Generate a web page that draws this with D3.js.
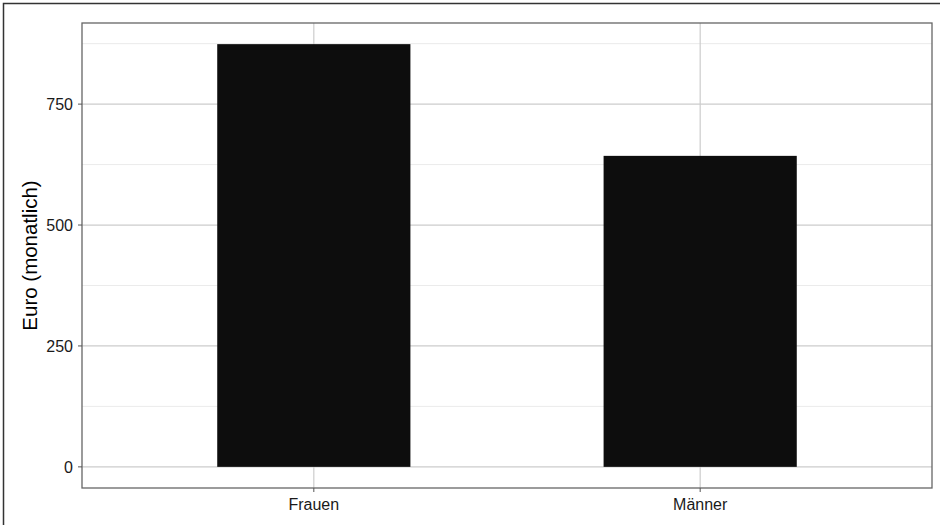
<!DOCTYPE html>
<html><head><meta charset="utf-8">
<script src="https://cdn.jsdelivr.net/npm/d3@7"></script>
<style>body{margin:0;background:#fff}svg{display:block}text{font-family:"Liberation Sans",Arial,sans-serif}</style>
</head><body><svg id="c" width="940" height="525"></svg>
<script>
const categories = ["Frauen", "Männer"];
const values = [874, 643];
const yTicks = [0, 250, 500, 750];
const yMinor = [125, 375, 625, 875];
const yTitle = "Euro (monatlich)";

const svg = d3.select("#c");
const L = 82, R = 932, T = 23, B = 488;

// outer frame
svg.append("rect").attr("x", 3.5).attr("y", 3.5).attr("width", 960).attr("height", 560)
  .attr("fill", "none").attr("stroke", "#333").attr("stroke-width", 1.5);

const ymax = d3.max(values);
const y = d3.scaleLinear().domain([-0.05 * ymax, ymax * 1.05]).range([B, T]);
// discrete positions: centers at 1,2 in [0.4,2.6]; bar width 0.5
const xc = d3.scaleLinear().domain([0.4, categories.length + 0.6]).range([L, R]);
const half = xc(1.25) - xc(1);

const g = svg.append("g");
g.selectAll("line.minor").data(yMinor).join("line")
  .attr("x1", L).attr("x2", R).attr("y1", d => y(d)).attr("y2", d => y(d))
  .attr("stroke", "#ebebeb").attr("stroke-width", 1);
g.selectAll("line.majy").data(yTicks).join("line")
  .attr("x1", L).attr("x2", R).attr("y1", d => y(d)).attr("y2", d => y(d))
  .attr("stroke", "#cccccc").attr("stroke-width", 1.2);
g.selectAll("line.majx").data(categories).join("line")
  .attr("x1", (d, i) => xc(i + 1)).attr("x2", (d, i) => xc(i + 1)).attr("y1", T).attr("y2", B)
  .attr("stroke", "#cccccc").attr("stroke-width", 1.2);

// bars
g.selectAll("rect.bar").data(values).join("rect")
  .attr("x", (d, i) => xc(i + 1) - half)
  .attr("width", half * 2)
  .attr("y", d => y(d)).attr("height", d => y(0) - y(d))
  .attr("fill", "#0d0d0d");

// panel border
svg.append("rect").attr("x", L).attr("y", T).attr("width", R - L).attr("height", B - T)
  .attr("fill", "none").attr("stroke", "#666").attr("stroke-width", 1.3);

// y axis
const ya = svg.append("g");
ya.selectAll("line").data(yTicks).join("line")
  .attr("x1", L - 4).attr("x2", L).attr("y1", d => y(d)).attr("y2", d => y(d))
  .attr("stroke", "#555").attr("stroke-width", 1);
ya.selectAll("text").data(yTicks).join("text")
  .attr("x", L - 9).attr("y", d => y(d) + 6).attr("text-anchor", "end")
  .attr("font-size", 16).attr("fill", "#1a1a1a").text(d => d);

// x axis
const xa = svg.append("g");
xa.selectAll("line").data(categories).join("line")
  .attr("x1", (d, i) => xc(i + 1)).attr("x2", (d, i) => xc(i + 1)).attr("y1", B).attr("y2", B + 4)
  .attr("stroke", "#555").attr("stroke-width", 1);
xa.selectAll("text").data(categories).join("text")
  .attr("x", (d, i) => xc(i + 1)).attr("y", 510).attr("text-anchor", "middle")
  .attr("font-size", 16).attr("fill", "#1a1a1a").text(d => d);

// y title
svg.append("text").attr("transform", `translate(37,${(T + B) / 2}) rotate(-90)`)
  .attr("text-anchor", "middle").attr("font-size", 20.5).attr("fill", "#000").text(yTitle);
</script></body></html>
